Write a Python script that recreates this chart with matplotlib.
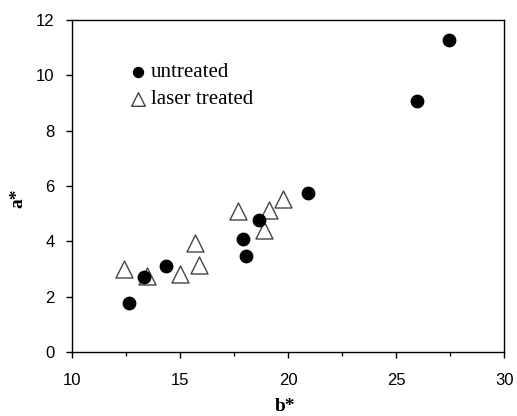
import matplotlib
matplotlib.use("Agg")
import matplotlib.pyplot as plt

untreated_b = [12.65, 13.33, 14.34, 17.90, 18.06, 18.67, 20.94, 25.96, 27.47]
untreated_a = [1.78, 2.72, 3.11, 4.08, 3.48, 4.76, 5.73, 9.08, 11.26]
laser_b = [12.41, 13.46, 15.01, 15.68, 15.90, 17.69, 18.89, 19.13, 19.78]
laser_a = [2.99, 2.75, 2.82, 3.93, 3.14, 5.10, 4.41, 5.12, 5.54]

x_ticks = [10, 15, 20, 25, 30]
y_ticks = [0, 2, 4, 6, 8, 10, 12]

fig = plt.figure(figsize=(5.17, 4.16), dpi=100)
ax = fig.add_axes([0.139, 0.154, 0.836, 0.798])

ax.scatter(laser_b, laser_a, marker='^', s=150, facecolors='white',
           edgecolors='#444444', linewidths=1.0, label='laser treated', zorder=2)
ax.scatter(untreated_b, untreated_a, marker='o', s=80, color='black',
           label='untreated', zorder=3)

ax.set_xlim(10, 30)
ax.set_ylim(0, 12)
ax.set_xticks(x_ticks)
ax.set_xticks([12.5, 17.5, 22.5, 27.5], minor=True)
ax.set_yticks(y_ticks)
ax.tick_params(axis='both', which='major', direction='out', length=4.5, width=1.0,
               labelsize=12, top=False, right=False)
ax.tick_params(axis='x', which='minor', direction='out', length=3, width=1.0)
ax.tick_params(axis='x', which='major', pad=11)
ax.tick_params(axis='y', which='major', pad=8)
for lab in ax.get_xticklabels() + ax.get_yticklabels():
    lab.set_fontfamily('Liberation Sans')
for s in ax.spines.values():
    s.set_linewidth(1.0)

ax.set_xlabel('b*', fontfamily='Liberation Serif', fontweight='bold', fontsize=14)
ax.set_ylabel('a*', fontfamily='Liberation Serif', fontweight='bold', fontsize=14)
ax.xaxis.set_label_coords(0.493, -0.138)
ax.yaxis.set_label_coords(-0.105, 0.464)

h, l = ax.get_legend_handles_labels()
leg = ax.legend([h[1], h[0]], [l[1], l[0]], loc='upper left', bbox_to_anchor=(0.105, 0.897),
                frameon=False, handletextpad=0.0, handlelength=1.2, labelspacing=0.36,
                markerscale=0.8,
                prop={'family': 'Liberation Serif', 'size': 15}, borderaxespad=0)

fig.savefig('out.png', dpi=100)
